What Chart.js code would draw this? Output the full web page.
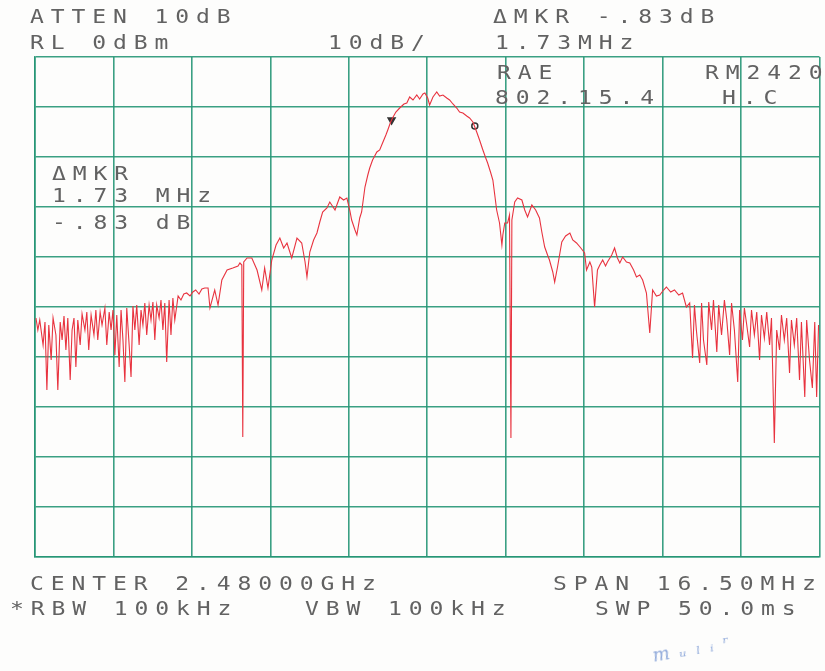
<!DOCTYPE html>
<html>
<head>
<meta charset="utf-8">
<script src="https://cdn.jsdelivr.net/npm/chart.js@4.4.0/dist/chart.umd.min.js"></script>
<style>
  html, body { margin: 0; padding: 0; background: #fdfdfc; }
  #wrap { position: relative; width: 825px; height: 671px; overflow: hidden; }
  #plot { position: absolute; left: 0; top: 0; }
  .t {
    position: absolute;
    font-family: "DejaVu Sans Mono", monospace;
    font-size: 20px;
    line-height: 20px;
    letter-spacing: 6px;
    color: #626262;
    white-space: pre;
    transform: scaleX(1.15);
    transform-origin: left top;
  }
  .sig {
    position: absolute;
    font-family: "DejaVu Serif", serif;
    font-style: italic;
    font-size: 18px;
    letter-spacing: 2px;
    color: #8fa9da;
    transform: rotate(-10deg);
  }
</style>
</head>
<body>
<div id="wrap">
  <canvas id="plot" width="825" height="671"></canvas>

  <div class="t" style="left:30px; top:6px;">ATTEN 10dB</div>
  <div class="t" style="left:30px; top:32px;">RL 0dBm</div>
  <div class="t" style="left:328px; top:32px;">10dB/</div>
  <div class="t" style="left:493px; top:6px;">ΔMKR -.83dB</div>
  <div class="t" style="left:495px; top:32px;">1.73MHz</div>
  <div class="t" style="left:497px; top:62px;">RAE</div>
  <div class="t" style="left:495px; top:87px;">802.15.4</div>
  <div class="t" style="left:705px; top:62px;">RM2420</div>
  <div class="t" style="left:722px; top:87px;">H.C</div>

  <div class="t" style="left:52px; top:163px;">ΔMKR</div>
  <div class="t" style="left:52px; top:185px;">1.73 MHz</div>
  <div class="t" style="left:52px; top:212px;">-.83 dB</div>

  <div class="t" style="left:30px; top:573px;">CENTER 2.48000GHz</div>
  <div class="t" style="left:553px; top:573px;">SPAN 16.50MHz</div>
  <div class="t" style="left:10px; top:598px;">*RBW 100kHz</div>
  <div class="t" style="left:305px; top:598px;">VBW 100kHz</div>
  <div class="t" style="left:595px; top:598px;">SWP 50.0ms</div>

  <div class="sig" style="left:652px; top:638px;">m ᵤ ₗ ᵢ ʳ</div>
</div>

<script>
// Trace: frequency offset from 2.48 GHz centre (MHz) and level (dBm)
const offsetMHz = [
  -8.23, -8.19, -8.15, -8.08, -8.04, -8.00, -7.96, -7.91, -7.87, -7.81,
  -7.77, -7.72, -7.68, -7.64, -7.60, -7.56, -7.51, -7.47, -7.43, -7.39,
  -7.35, -7.30, -7.26, -7.20, -7.16, -7.12, -7.07, -7.01, -6.97, -6.93,
  -6.88, -6.84, -6.78, -6.74, -6.69, -6.65, -6.61, -6.57, -6.53, -6.48,
  -6.44, -6.40, -6.36, -6.32, -6.27, -6.23, -6.19, -6.15, -6.11, -6.06,
  -6.02, -5.98, -5.94, -5.90, -5.85, -5.81, -5.77, -5.73, -5.69, -5.64,
  -5.60, -5.56, -5.52, -5.48, -5.43, -5.39, -5.35, -5.31, -5.24, -5.18,
  -5.12, -5.06, -4.99, -4.93, -4.87, -4.80, -4.74, -4.68, -4.61, -4.57,
  -4.47, -4.40, -4.32, -4.21, -4.09, -3.98, -3.94, -3.90, -3.88, -3.86,
  -3.79, -3.69, -3.58, -3.48, -3.42, -3.35, -3.27, -3.18, -3.10, -3.02,
  -2.95, -2.85, -2.74, -2.64, -2.57, -2.53, -2.47, -2.39, -2.32, -2.26,
  -2.20, -2.11, -2.05, -1.94, -1.84, -1.76, -1.69, -1.63, -1.59, -1.52,
  -1.48, -1.42, -1.38, -1.31, -1.25, -1.21, -1.15, -1.06, -1.00, -0.94,
  -0.87, -0.83, -0.77, -0.73, -0.66, -0.58, -0.49, -0.43, -0.37, -0.30,
  -0.22, -0.16, -0.09, -0.05, 0.01, 0.05, 0.12, 0.20, 0.26, 0.33,
  0.41, 0.47, 0.54, 0.62, 0.68, 0.75, 0.83, 0.89, 0.96, 1.04,
  1.10, 1.17, 1.23, 1.27, 1.33, 1.38, 1.42, 1.46, 1.52, 1.57,
  1.59, 1.63, 1.69, 1.73, 1.76, 1.78, 1.84, 1.90, 1.99, 2.05,
  2.11, 2.20, 2.28, 2.36, 2.41, 2.47, 2.53, 2.57, 2.64, 2.68,
  2.74, 2.83, 2.91, 3.00, 3.06, 3.14, 3.23, 3.31, 3.35, 3.42,
  3.46, 3.52, 3.58, 3.63, 3.69, 3.75, 3.79, 3.88, 3.94, 4.00,
  4.05, 4.11, 4.19, 4.26, 4.34, 4.40, 4.47, 4.53, 4.61, 4.68,
  4.74, 4.82, 4.89, 4.97, 5.03, 5.12, 5.20, 5.29, 5.37, 5.45,
  5.52, 5.56, 5.58, 5.62, 5.66, 5.73, 5.77, 5.81, 5.88, 5.92,
  5.98, 6.02, 6.09, 6.13, 6.19, 6.25, 6.30, 6.36, 6.40, 6.46,
  6.53, 6.57, 6.63, 6.67, 6.72, 6.78, 6.82, 6.88, 6.93, 6.99,
  7.03, 7.09, 7.14, 7.20, 7.24, 7.30, 7.35, 7.41, 7.45, 7.51,
  7.56, 7.62, 7.66, 7.72, 7.77, 7.83, 7.87, 7.94, 7.98, 8.04,
  8.10, 8.15, 8.19, 8.23
];
const levelDbm = [
  -52.2, -54.6, -52.6, -57.6, -53.0, -66.6, -53.6, -60.6, -52.2, -55.6,
  -66.6, -53.0, -56.6, -51.8, -58.6, -52.2, -64.6, -54.6, -52.2, -62.0,
  -52.6, -57.6, -51.4, -54.6, -51.0, -58.6, -51.6, -55.6, -50.6, -56.6,
  -51.0, -53.6, -50.2, -57.6, -51.0, -54.6, -50.6, -59.6, -51.6, -62.0,
  -50.6, -56.6, -65.0, -50.2, -57.6, -64.0, -49.8, -54.6, -49.6, -57.6,
  -50.6, -53.6, -49.2, -55.6, -49.6, -52.6, -49.0, -56.6, -49.6, -52.2,
  -48.6, -54.6, -49.2, -61.0, -48.6, -55.6, -48.2, -52.6, -47.8, -48.6,
  -47.4, -47.2, -47.8, -47.0, -46.6, -47.4, -46.4, -46.2, -46.2, -50.2,
  -46.6, -49.6, -44.6, -42.6, -42.2, -41.8, -41.2, -41.6, -76.0, -41.0,
  -40.2, -40.2, -42.6, -46.6, -42.2, -46.2, -40.6, -37.6, -36.2, -38.2,
  -37.2, -40.2, -36.2, -37.2, -41.0, -44.0, -39.0, -36.6, -35.2, -33.0,
  -31.0, -30.2, -29.0, -30.6, -28.0, -28.6, -28.2, -30.6, -32.6, -34.6,
  -35.6, -32.2, -31.0, -26.0, -23.6, -22.2, -20.6, -19.0, -18.6, -17.2,
  -15.6, -14.6, -13.0, -12.2, -11.0, -10.2, -9.4, -9.2, -8.0, -8.6,
  -7.6, -8.4, -7.4, -7.2, -8.2, -9.6, -8.0, -7.0, -7.8, -7.6,
  -8.2, -8.6, -9.4, -10.2, -11.0, -11.2, -11.8, -12.2, -13.0, -15.0,
  -16.6, -18.6, -20.2, -21.2, -23.0, -24.6, -27.6, -30.6, -33.2, -37.6,
  -35.6, -33.2, -33.2, -31.6, -76.2, -32.6, -29.0, -28.2, -28.6, -30.6,
  -32.0, -29.6, -30.6, -32.2, -35.0, -38.0, -39.6, -40.6, -43.0, -45.0,
  -42.0, -37.0, -35.8, -35.2, -36.6, -37.2, -38.2, -39.2, -42.6, -41.0,
  -42.0, -50.0, -42.6, -41.6, -40.6, -41.8, -41.0, -39.6, -38.2, -40.2,
  -41.2, -40.0, -41.0, -41.2, -42.6, -44.0, -43.6, -44.6, -47.2, -55.2,
  -46.6, -47.8, -47.6, -46.6, -46.0, -47.0, -46.6, -47.6, -47.2, -50.0,
  -49.2, -56.6, -60.2, -49.6, -54.6, -61.2, -49.2, -56.6, -61.6, -49.0,
  -54.6, -48.6, -59.0, -49.6, -55.6, -48.6, -52.6, -59.6, -49.2, -54.6,
  -65.0, -50.6, -56.6, -50.2, -53.6, -58.0, -50.6, -55.6, -51.0, -60.6,
  -51.6, -56.2, -51.0, -57.6, -52.2, -77.2, -54.6, -58.6, -51.6, -56.6,
  -52.2, -63.2, -52.6, -57.6, -52.2, -64.6, -53.0, -68.0, -52.6, -60.6,
  -66.2, -53.0, -68.0, -53.6
];

// Reference and delta markers (ΔMKR 1.73 MHz, -.83 dB)
const markerMHz = [-0.75, 1.00];
const markerDbm = [-12.6, -13.8];

// Graticule: 10 divisions each way, 1.65 MHz/div and 10 dB/div from RL 0 dBm
const xTicks = [-8.25, -6.6, -4.95, -3.3, -1.65, 0, 1.65, 3.3, 4.95, 6.6, 8.25];
const yTicks = [-100, -90, -80, -70, -60, -50, -40, -30, -20, -10, 0];

const gridColor = 'rgba(38, 150, 118, 0.9)';
const traceColor = '#e8333f';

const tracePoints = offsetMHz.map((f, i) => ({ x: f, y: levelDbm[i] }));
const markerPoints = markerMHz.map((f, i) => ({ x: f, y: markerDbm[i] }));

new Chart(document.getElementById('plot').getContext('2d'), {
  type: 'line',
  data: {
    datasets: [
      {
        data: tracePoints,
        borderColor: traceColor,
        borderWidth: 1.1,
        pointRadius: 0,
        tension: 0,
        fill: false
      },
      {
        data: markerPoints,
        showLine: false,
        pointStyle: ['triangle', 'circle'],
        rotation: [180, 0],
        pointRadius: [4, 3],
        pointBorderWidth: 1.5,
        pointBorderColor: '#333',
        pointBackgroundColor: ['#333', 'rgba(0,0,0,0)']
      }
    ]
  },
  options: {
    responsive: false,
    animation: false,
    layout: { padding: { left: 35, right: 5, top: 57, bottom: 114 } },
    plugins: { legend: { display: false }, tooltip: { enabled: false } },
    scales: {
      x: {
        type: 'linear',
        min: -8.25,
        max: 8.25,
        afterBuildTicks: s => { s.ticks = xTicks.map(v => ({ value: v })); },
        ticks: { display: false },
        grid: { color: gridColor, lineWidth: 1.6, drawTicks: false },
        border: { color: gridColor, width: 1.6 }
      },
      y: {
        type: 'linear',
        min: -100,
        max: 0,
        afterBuildTicks: s => { s.ticks = yTicks.map(v => ({ value: v })); },
        ticks: { display: false },
        grid: { color: gridColor, lineWidth: 1.6, drawTicks: false },
        border: { color: gridColor, width: 1.6 }
      }
    }
  }
});
</script>
</body>
</html>
